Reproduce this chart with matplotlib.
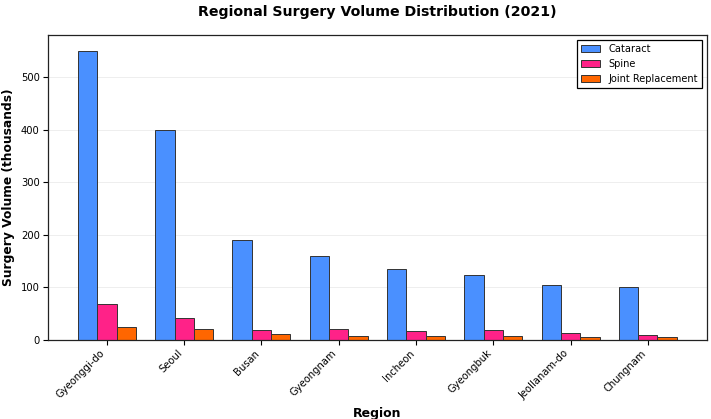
import numpy as np
import matplotlib
matplotlib.use("Agg")
import matplotlib.pyplot as plt

regions = ["Gyeonggi-do", "Seoul", "Busan", "Gyeongnam", "Incheon",
           "Gyeongbuk", "Jeollanam-do", "Chungnam"]
cataract = [550, 400, 190, 160, 135, 123, 105, 100]
spine = [68, 41, 18, 20, 17, 18, 13, 10]
joint = [25, 20, 11, 8, 7, 7, 6, 5]

x = np.arange(len(regions))
w = 0.25

fig, ax = plt.subplots(figsize=(7.11, 4.19), dpi=100)
fig.subplots_adjust(left=0.0675, right=0.994, top=0.916, bottom=0.189)

ax.bar(x - w, cataract, w, color="#4a90ff", edgecolor="#333333", linewidth=0.7, label="Cataract")
ax.bar(x, spine, w, color="#ff2288", edgecolor="#333333", linewidth=0.7, label="Spine")
ax.bar(x + w, joint, w, color="#ff6600", edgecolor="#333333", linewidth=0.7, label="Joint Replacement")

ax.set_xticks(x)
ax.set_xticklabels(regions, rotation=45, ha="right", fontsize=7.2)
ax.tick_params(axis="y", labelsize=7.2, pad=2.5)
ax.tick_params(axis="x", pad=2.5)
ax.set_ylim(0, 580)
ax.yaxis.grid(True, color="#eeeeee", linewidth=0.7)
ax.set_axisbelow(True)

ax.set_xlabel("Region", fontsize=9, fontweight="bold")
ax.set_ylabel("Surgery Volume (thousands)", fontsize=8.8, fontweight="bold", labelpad=4)
ax.set_title("Regional Surgery Volume Distribution (2021)", fontsize=10.2, fontweight="bold", pad=14)

for s in ax.spines.values():
    s.set_linewidth(0.9)
    s.set_color("#222222")

leg = ax.legend(loc="upper right", fontsize=7.1, fancybox=False, edgecolor="black", framealpha=1)
leg.get_frame().set_linewidth(0.9)

plt.savefig("out.png", dpi=100)
